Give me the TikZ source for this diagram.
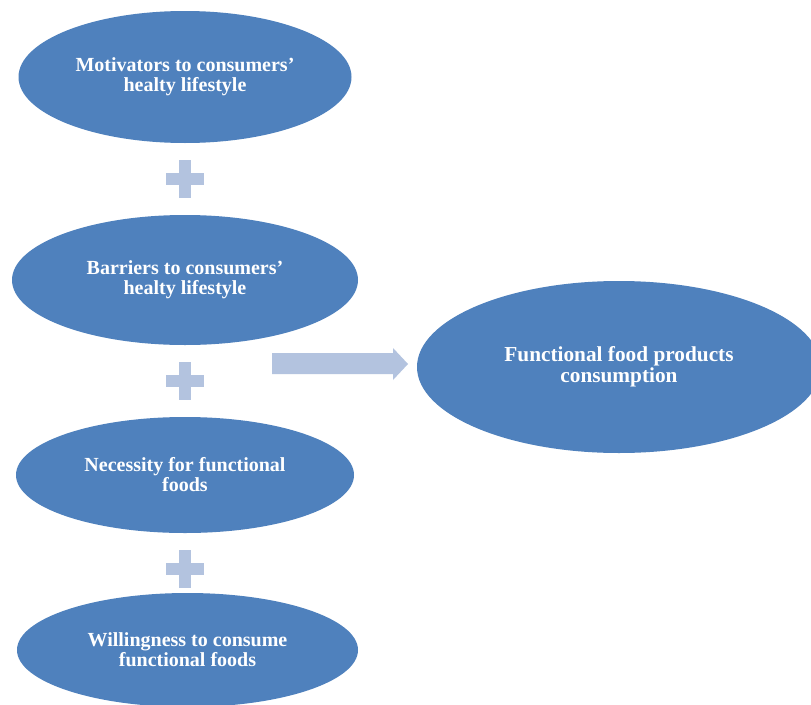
\documentclass[tikz,border=0pt]{standalone}
\usepackage{fontspec}
\setmainfont{Liberation Serif}
\usetikzlibrary{shapes.geometric}
\definecolor{ellblue}{HTML}{4F81BD}
\definecolor{lightblue}{HTML}{B3C3DF}
\tikzset{
  ell/.style={ellipse, fill=ellblue, draw=none, inner sep=0pt, text=white,
    font=\bfseries\fontsize{20}{20}\selectfont, align=center},
  bigell/.style={ell, font=\bfseries\fontsize{21.3}{21}\selectfont},
  plussign/.pic={
    \fill[lightblue] (-19,-6) rectangle (19,6);
    \fill[lightblue] (-6,-19) rectangle (6,19);
  },
  blockarrow/.style={fill=lightblue, draw=none}
}
\begin{document}
\begin{tikzpicture}[x=1pt,y=-1pt]
\clip (0,0) rectangle (811,704);
\fill[white] (0,0) rectangle (811,704);
\node[ell, minimum width=333pt, minimum height=132pt] (mot) at (185,77) {Motivators to consumers’\\healty lifestyle};
\node[ell, minimum width=346pt, minimum height=130pt] (bar) at (185,280) {Barriers to consumers’\\healty lifestyle};
\node[ell, minimum width=338pt, minimum height=116pt] (nec) at (185,475) {Necessity for functional\\foods};
\node[ell, minimum width=341pt, minimum height=114pt] (wil) at (187.5,650) {Willingness to consume\\functional foods};
\node[bigell, minimum width=404pt, minimum height=172pt] (fun) at (619,367) {Functional food products\\consumption};
\pic at (185,179) {plussign};
\pic at (185,381) {plussign};
\pic at (185,569) {plussign};
\fill[blockarrow] (272,353) -- (393,353) -- (393,348) -- (408,364) -- (393,380) -- (393,374) -- (272,374) -- cycle;
\end{tikzpicture}
\end{document}
